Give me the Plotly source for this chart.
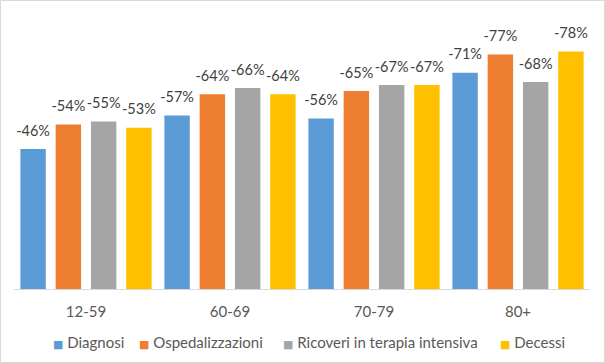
import plotly.graph_objects as go

categories = ["12-59", "60-69", "70-79", "80+"]
series_names = ["Diagnosi", "Ospedalizzazioni", "Ricoveri in terapia intensiva", "Decessi"]
diagnosi = [-46, -57, -56, -71]
ospedalizzazioni = [-54, -64, -65, -77]
ricoveri_ti = [-55, -66, -67, -68]
decessi = [-53, -64, -67, -78]
colors = ["#5B9BD5", "#ED7D31", "#A5A5A5", "#FFC000"]

W, H = 605, 363
ML, MR, MT, MB = 14, 15, 15, 74
pw, ph = W - ML - MR, H - MT - MB
FONT = "Lato"

# legend text start positions (px) for each entry
legend_px = [53, 139, 283, 500]

fig = go.Figure()
legend_ids = ["legend", "legend2", "legend3", "legend4"]
for i, (name, vals, col) in enumerate(zip(series_names, [diagnosi, ospedalizzazioni, ricoveri_ti, decessi], colors)):
    fig.add_trace(go.Bar(
        x=categories, y=[abs(v) for v in vals], name=name,
        marker=dict(color=col, line=dict(width=0)),
        showlegend=False, hoverinfo="skip", offsetgroup=str(i),
    ))
    fig.add_trace(go.Scatter(
        x=categories, y=[abs(v) for v in vals], mode="markers+text",
        text=[f"{v}%" for v in vals], textposition="top center",
        textfont=dict(family=FONT, size=14.5, color="#404040"),
        marker=dict(size=14, color="rgba(0,0,0,0)"),
        cliponaxis=False, showlegend=False, hoverinfo="skip", offsetgroup=str(i),
    ))
    fig.add_trace(go.Scatter(
        x=[None], y=[None], mode="markers",
        name=f'<span style="color:{col};font-family:DejaVu Sans;font-size:11px">■</span> {name}',
        marker=dict(symbol="square", size=1, color="rgba(0,0,0,0)"),
        legend=legend_ids[i],
    ))

leg_y = -(342 - (MT + ph)) / ph
legends = {}
for i, lid in enumerate(legend_ids):
    legends[lid] = dict(orientation="h", x=(legend_px[i] - 40 - ML) / pw, xanchor="left",
                        y=leg_y, yanchor="middle", font=dict(family=FONT, size=15, color="#595959"),
                        itemwidth=30, bgcolor="rgba(0,0,0,0)")

fig.update_layout(
    width=W, height=H,
    margin=dict(l=ML, r=MR, t=MT, b=MB, autoexpand=False),
    paper_bgcolor="white", plot_bgcolor="white",
    barmode="group", bargap=0.02, bargroupgap=0.28,
    scattermode="group", scattergap=0.02,
    font=dict(family=FONT, size=15, color="#595959"),
    xaxis=dict(showline=True, linecolor="#D9D9D9", linewidth=1, ticks="", ticklabelstandoff=9,
               tickfont=dict(family=FONT, size=15, color="#595959"), showgrid=False, zeroline=False),
    yaxis=dict(range=[0, 90], visible=False, showgrid=False, zeroline=False),
    shapes=[dict(type="rect", xref="paper", yref="paper",
                 x0=(0.5 - ML) / pw, x1=(W - 0.5 - ML) / pw,
                 y0=-(H - 0.5 - MT - ph) / ph, y1=(ph + MT - 0.5) / ph,
                 line=dict(color="#D9D9D9", width=1), fillcolor="rgba(0,0,0,0)", layer="below")],
    **legends,
)
fig.write_html("out.html", config={"displayModeBar": False},
               post_script="document.body.style.margin='0';document.body.style.overflow='hidden';")
